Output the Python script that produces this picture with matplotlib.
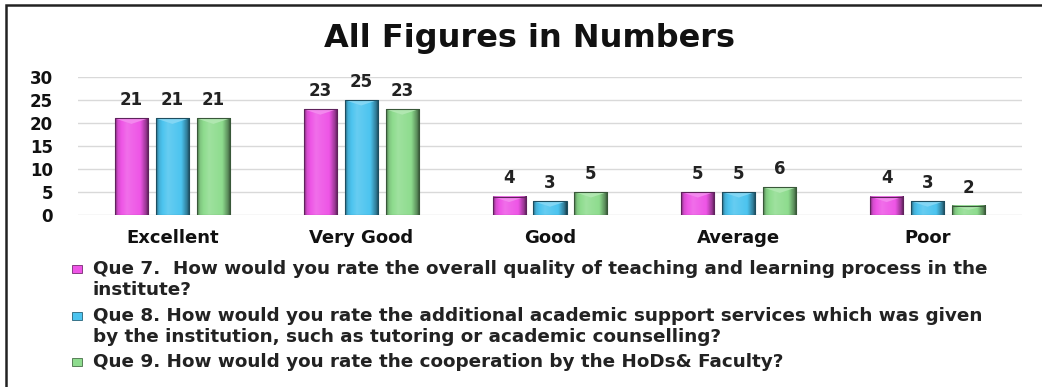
import numpy as np
import matplotlib.pyplot as plt
from matplotlib.colors import to_rgb
from matplotlib.patches import Rectangle, Polygon

categories = ["Excellent", "Very Good", "Good", "Average", "Poor"]
que7 = [21, 23, 4, 5, 4]
que8 = [21, 25, 3, 5, 3]
que9 = [21, 23, 5, 6, 2]
legend_labels = [
    "Que 7.  How would you rate the overall quality of teaching and learning process in the\ninstitute?",
    "Que 8. How would you rate the additional academic support services which was given\nby the institution, such as tutoring or academic counselling?",
    "Que 9. How would you rate the cooperation by the HoDs& Faculty?",
]
yticks = [0, 5, 10, 15, 20, 25, 30]

colors = ["#ee55e6", "#4cc4ef", "#8edc8e"]
series = [que7, que8, que9]

W, H = 1042, 387
fig = plt.figure(figsize=(W / 100, H / 100), dpi=100)
ax = fig.add_axes([78 / W, 1 - 215 / H, (1022 - 78) / W, (215 - 77) / H])


def shade(c, f):
    c = np.array(to_rgb(c))
    if f >= 0:
        return c + (1 - c) * f
    return c * (1 + f)


def bevel_bar(ax, xc, h, width, color):
    x0, x1 = xc - width / 2, xc + width / 2
    # horizontal gradient: dark left rim, bright centre, dark right rim
    t = np.linspace(0, 1, 40)
    prof = np.interp(t, [0, 0.08, 0.35, 0.75, 0.92, 1.0],
                     [-0.45, -0.1, 0.15, 0.0, -0.35, -0.65])
    img = np.array([shade(color, p) for p in prof])[None, :, :]
    ax.imshow(img, extent=(x0, x1, 0, h), aspect="auto", zorder=3,
              interpolation="bilinear")
    # bevelled top
    d = min(1.2, h * 0.45)
    ax.add_patch(Polygon([(x0, h), (x1, h), (xc, h - d)], closed=True,
                         facecolor=shade(color, 0.3), edgecolor="none", zorder=4))
    ax.add_patch(Rectangle((x0, 0), width, h, facecolor="none",
                           edgecolor=shade(color, -0.6), lw=0.8, zorder=5))


x = np.arange(len(categories))
bw = 0.175
offsets = [-0.217, 0, 0.217]
for vals, col, off in zip(series, colors, offsets):
    for xi, v in zip(x, vals):
        bevel_bar(ax, xi + off, v, bw, col)
        ax.text(xi + off, v + 2.0, str(v), ha="center", va="bottom",
                fontsize=12, fontweight="bold", color="#222222")

ax.set_xlim(-0.5, len(categories) - 0.5)
ax.set_ylim(0, 30)
ax.set_yticks(yticks)
ax.set_yticklabels([str(t) for t in yticks], fontsize=12, fontweight="bold")
ax.set_xticks(x)
ax.set_xticklabels(categories, fontsize=13, fontweight="bold")
ax.tick_params(axis="both", length=0, colors="#111111")
ax.tick_params(axis="y", pad=18)
ax.tick_params(axis="x", pad=10)
ax.grid(axis="y", color="#d9d9d9", lw=1, zorder=0)
ax.set_axisbelow(True)
for s in ax.spines.values():
    s.set_visible(False)

fig.text(530 / W, 1 - 39 / H, "All Figures in Numbers", ha="center", va="center",
         fontsize=23, fontweight="bold", color="#111111")

# legend: one row per text line
leg_rows = [[269, 290], [316, 337], [362]]
for lbl, col, rows in zip(legend_labels, colors, leg_rows):
    fig.patches.append(Rectangle((72 / W, 1 - (rows[0] + 4) / H), 10 / W, 8 / H,
                                 transform=fig.transFigure, facecolor=col,
                                 edgecolor=shade(col, -0.5), lw=0.6))
    for line, yy in zip(lbl.split("\n"), rows):
        fig.text(93 / W, 1 - yy / H, line, ha="left", va="center", fontsize=13.2,
                 fontweight="bold", color="#222222")

# outer frame
fig.patches.append(Rectangle((6 / W, -0.1), 1.2, 1 - 5 / H + 0.1,
                             transform=fig.transFigure, facecolor="none",
                             edgecolor="#222222", lw=1.8))

fig.savefig("out.png", dpi=100)
